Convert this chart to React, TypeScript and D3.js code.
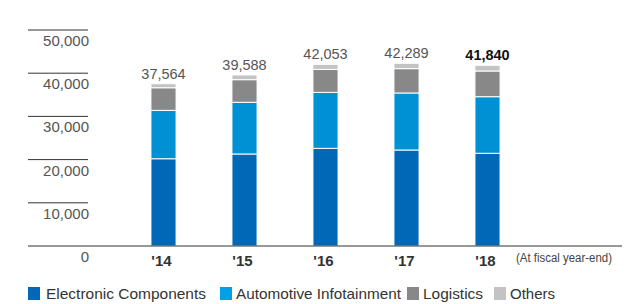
import * as d3 from 'd3'

const years = ["'14", "'15", "'16", "'17", "'18"]
const totals = [37564, 39588, 42053, 42289, 41840]
const electronic = [20200, 21300, 22600, 22220, 21460]
const automotive = [11200, 11970, 12960, 13200, 13100]
const logistics = [5230, 5230, 5320, 5630, 5950]
const others = [934, 1088, 1173, 1239, 1330]
const yTicks = [0, 10000, 20000, 30000, 40000, 50000]

const seriesNames = ['Electronic Components', 'Automotive Infotainment', 'Logistics', 'Others']
const barColors = ['#0068b7', '#0091d5', '#888888', '#c3c3c3']
const legendColors = ['#0068b7', '#00a0e9', '#888888', '#c3c3c3']

const font = 'Liberation Sans, Arial, sans-serif'

export default function App() {
  const width = 640
  const height = 304

  const y = d3.scaleLinear().domain([0, 50000]).range([246, 30])
  const x = d3.scaleBand().domain(years).range([123, 528]).paddingInner(0.69).paddingOuter(0.345)

  const rows = years.map((yr, i) => ({
    year: yr,
    electronic: electronic[i],
    automotive: automotive[i],
    logistics: logistics[i],
    others: others[i],
  }))
  const keys = ['electronic', 'automotive', 'logistics', 'others']
  const stacked = d3.stack<any>().keys(keys)(rows)

  const fmt = d3.format(',')
  // legend layout (square x, text width)
  const legendX = [28, 220, 407, 494]
  const legendW = [160, 165, 60, 45]

  return (
    <svg width={width} height={height} style={{ position: 'absolute', left: 0, top: 0, fontFamily: font }}>
      {yTicks.map(t => (
        <g key={t}>
          {t > 0 && <line x1={28} x2={88} y1={y(t)} y2={y(t)} stroke="#333" strokeWidth={1} />}
          <text x={89} y={y(t) + 16} textAnchor="end" fontSize={15} fill="#555">
            {fmt(t)}
          </text>
        </g>
      ))}

      {stacked.map((s, si) => (
        <g key={si}>
          {s.map((d, i) => (
            <rect
              key={i}
              x={x(years[i])}
              width={x.bandwidth()}
              y={y(d[1])}
              height={y(d[0]) - y(d[1])}
              fill={barColors[si]}
              stroke="#fff"
              strokeWidth={1}
            />
          ))}
        </g>
      ))}

      <line x1={28} x2={622} y1={y(0)} y2={y(0)} stroke="#333" strokeWidth={1.2} />

      {totals.map((v, i) => (
        <text
          key={i}
          x={(x(years[i]) as number) + x.bandwidth() / 2}
          y={y(v) - 5}
          textAnchor="middle"
          fontSize={14.5}
          fontWeight={i === totals.length - 1 ? 'bold' : 'normal'}
          fill={i === totals.length - 1 ? '#111' : '#555'}
        >
          {fmt(v)}
        </text>
      ))}

      {years.map(yr => (
        <text
          key={yr}
          x={(x(yr) as number) + x.bandwidth() / 2 - 2}
          y={266}
          textAnchor="middle"
          fontSize={15}
          fontWeight="bold"
          fill="#333"
        >
          {yr}
        </text>
      ))}
      <text x={516} y={262} fontSize={12.5} fill="#444" textLength={96} lengthAdjust="spacingAndGlyphs">
        (At fiscal year-end)
      </text>

      {seriesNames.map((n, i) => (
        <g key={n}>
          <rect x={legendX[i]} y={287} width={12} height={13} fill={legendColors[i]} />
          <text
            x={legendX[i] + (i === 0 ? 18 : 16)}
            y={299}
            fontSize={15}
            fill="#333"
            textLength={legendW[i]}
            lengthAdjust="spacingAndGlyphs"
          >
            {n}
          </text>
        </g>
      ))}
    </svg>
  )
}
